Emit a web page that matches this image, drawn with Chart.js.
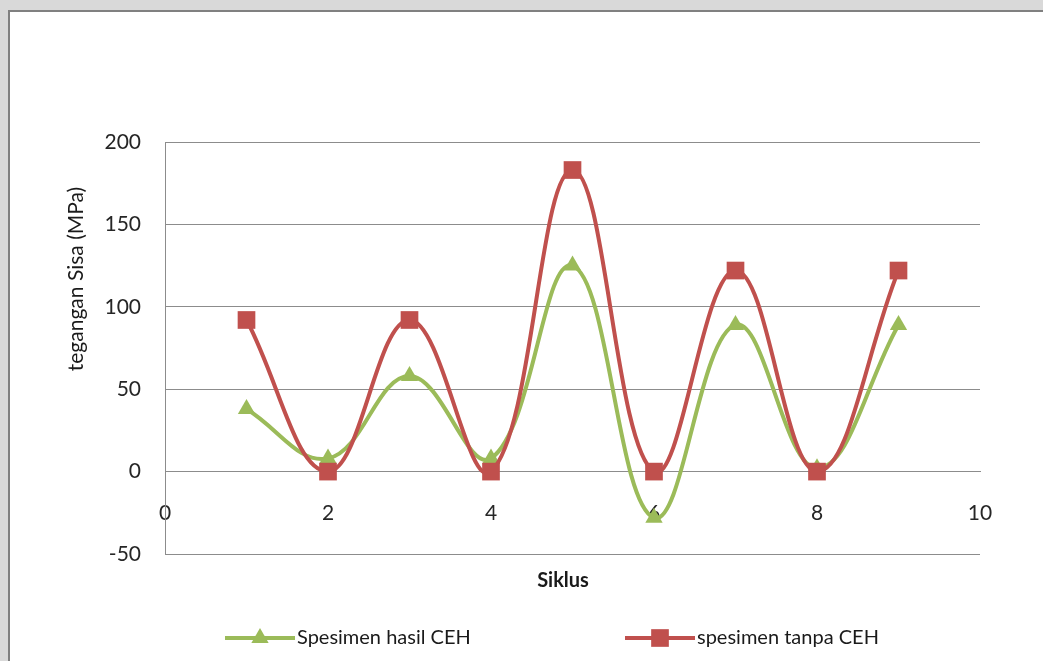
<!DOCTYPE html>
<html>
<head>
<meta charset="utf-8">
<script src="https://cdn.jsdelivr.net/npm/chart.js@4"></script>
<style>
  html, body { margin: 0; padding: 0; }
  body { width: 1043px; height: 661px; background: #d9d9d9; position: relative; overflow: hidden; }
  #frame { position: absolute; left: 8px; top: 10px; right: -4px; bottom: -4px;
           background: #ffffff; border: 2px solid #808080; }
  #chart { position: absolute; left: 0; top: 0; }
</style>
</head>
<body>
<div id="frame"></div>
<canvas id="chart" width="1043" height="661"></canvas>
<script>
// Siklus (cycle number) on the x axis
const cycles = [1, 2, 3, 4, 5, 6, 7, 8, 9];
// Residual stress (MPa) per cycle
const hasilCEH = [38, 8, 58, 8, 125, -28, 89, 2, 89];
const tanpaCEH = [92, 0, 92, 0, 183, 0, 122, 0, 122];
// Axis ranges and tick steps
const xRange = [0, 10], xStep = 2;
const yRange = [-50, 200], yStep = 50;
// Axis captions
const xTitle = 'Siklus';
const yTitle = 'tegangan Sisa (MPa)';

const GREEN = '#9bbb59';
const RED = '#c0504d';
const FONT = 'Lato, "Open Sans", sans-serif';
const TEXT = '#1a1a1a';

const toPoints = (xs, ys) => xs.map((x, i) => ({ x: x, y: ys[i] }));

// Axis captions, placed where the layout puts them rather than centred on the axes
const axisCaptions = {
  id: 'axisCaptions',
  afterDraw(chart) {
    const ctx = chart.ctx;
    ctx.save();
    ctx.fillStyle = TEXT;
    ctx.textAlign = 'center';
    ctx.textBaseline = 'middle';
    ctx.font = 'bold 20px ' + FONT;
    ctx.fillText(xTitle, 563, 581);
    ctx.translate(76, 279);
    ctx.rotate(-Math.PI / 2);
    ctx.font = '21px ' + FONT;
    ctx.fillText(yTitle, 0, 0);
    ctx.restore();
  }
};

// Legend drawn as line-with-marker swatches, like the series themselves
const lineLegend = {
  id: 'lineLegend',
  afterDraw(chart) {
    const ctx = chart.ctx;
    const starts = [225, 625];
    const y = 638;
    ctx.save();
    chart.data.datasets.forEach((ds, i) => {
      const x0 = starts[i];
      ctx.strokeStyle = ds.borderColor;
      ctx.lineWidth = 4;
      ctx.beginPath();
      ctx.moveTo(x0, y);
      ctx.lineTo(x0 + 70, y);
      ctx.stroke();
      ctx.fillStyle = ds.backgroundColor;
      const cx = x0 + 35, r = ds.pointRadius;
      ctx.beginPath();
      if (ds.pointStyle === 'triangle') {
        ctx.moveTo(cx, y - r);
        ctx.lineTo(cx + r * Math.sin(Math.PI / 3), y + r / 2);
        ctx.lineTo(cx - r * Math.sin(Math.PI / 3), y + r / 2);
        ctx.closePath();
      } else {
        const s = r * Math.SQRT1_2;
        ctx.rect(cx - s, y - s, 2 * s, 2 * s);
      }
      ctx.fill();
      ctx.fillStyle = TEXT;
      ctx.font = '20px ' + FONT;
      ctx.textAlign = 'left';
      ctx.textBaseline = 'middle';
      ctx.fillText(ds.label, x0 + 72, y);
    });
    ctx.restore();
  }
};

new Chart(document.getElementById('chart'), {
  type: 'line',
  data: {
    datasets: [
      {
        label: 'Spesimen hasil CEH',
        data: toPoints(cycles, hasilCEH),
        borderColor: GREEN,
        backgroundColor: GREEN,
        borderWidth: 4,
        pointStyle: 'triangle',
        pointRadius: 10,
        pointBorderWidth: 0,
        tension: 0.4,
        order: 1
      },
      {
        label: 'spesimen tanpa CEH',
        data: toPoints(cycles, tanpaCEH),
        borderColor: RED,
        backgroundColor: RED,
        borderWidth: 4,
        pointStyle: 'rect',
        pointRadius: 12.5,
        pointBorderWidth: 0,
        tension: 0.4,
        order: 0
      }
    ]
  },
  options: {
    responsive: false,
    devicePixelRatio: 1,
    animation: false,
    events: [],
    layout: { padding: { left: 62, right: 63, top: 142, bottom: 107 } },
    plugins: {
      legend: { display: false },
      tooltip: { enabled: false }
    },
    scales: {
      x: {
        type: 'linear',
        position: { y: 0 },
        min: xRange[0],
        max: xRange[1],
        ticks: { stepSize: xStep, padding: 29, color: '#262626', font: { family: FONT, size: 21 } },
        grid: { display: false, drawTicks: false },
        border: { display: true, color: '#8c8c8c', width: 1 }
      },
      y: {
        min: yRange[0],
        max: yRange[1],
        ticks: { stepSize: yStep, padding: 24, color: '#262626', font: { family: FONT, size: 21 } },
        grid: { color: '#8c8c8c', lineWidth: 1, drawTicks: false },
        border: { display: true, color: '#8c8c8c', width: 1 },
        afterFit(scale) { scale.width = 103; }
      }
    }
  },
  plugins: [axisCaptions, lineLegend]
});
</script>
</body>
</html>
